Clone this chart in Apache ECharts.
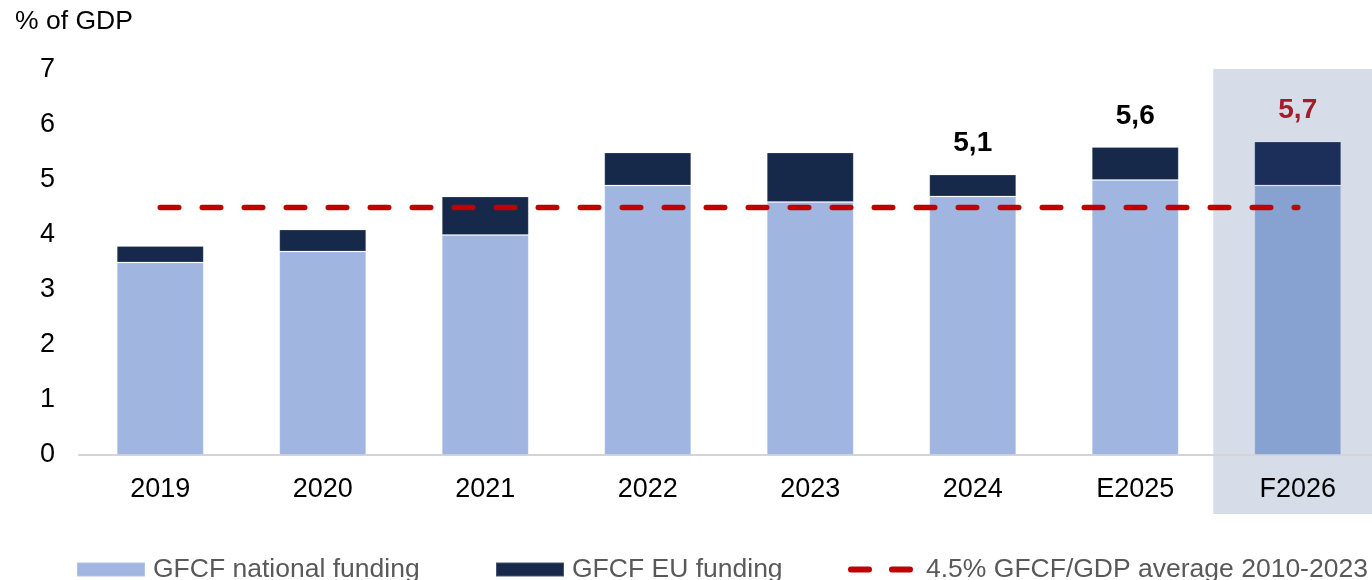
<!DOCTYPE html>
<html>
<head>
<meta charset="utf-8">
<script src="https://cdn.jsdelivr.net/npm/echarts@6/dist/echarts.min.js"></script>
<style>
html,body{margin:0;padding:0;background:#fff;overflow:hidden;width:1372px;height:580px;}
#chart{width:1380px;height:580px;}
</style>
</head>
<body>
<div id="chart"></div>
<script>
var categories = ['2019','2020','2021','2022','2023','2024','E2025','F2026'];
var nationalFunding = [3.5, 3.7, 4.0, 4.9, 4.6, 4.7, 5.0, 4.9];
var euFunding = [0.3, 0.4, 0.7, 0.6, 0.9, 0.4, 0.6, 0.8];
var averageLine = [4.5, 4.5, 4.5, 4.5, 4.5, 4.5, 4.5, 4.5];
var labelledCategories = ['2024','E2025','F2026'];
var highlightCategory = 'F2026';
var yTicks = [0,1,2,3,4,5,6,7];

var FONT = '"Liberation Sans", Arial, sans-serif';
var C_NAT = '#A0B5E0', C_EU = '#17294A';
var C_NAT_H = '#87A1D1', C_EU_H = '#1C2F5A';
var C_RED = '#C00000', C_LABEL_RED = '#A61B29';

var natData = nationalFunding.map(function(v,i){
  var d = {value:v};
  if (categories[i] === highlightCategory) d.itemStyle = {color:C_NAT_H};
  return d;
});
var euData = euFunding.map(function(v,i){
  var d = {value:v};
  var total = (nationalFunding[i] + v).toFixed(1).replace('.', ',');
  if (categories[i] === highlightCategory) d.itemStyle = {color:C_EU_H};
  if (labelledCategories.indexOf(categories[i]) >= 0) {
    d.label = {show:true, position:'top', distance:17, formatter: total,
      color: categories[i] === highlightCategory ? C_LABEL_RED : '#000',
      fontSize:28, fontWeight:'bold', fontFamily:FONT};
  }
  return d;
});

var dashIcon = 'path://M3,0 h18 a3,3 0 0 1 0,6 h-18 a3,3 0 0 1 0,-6 z M44,0 h18 a3,3 0 0 1 0,6 h-18 a3,3 0 0 1 0,-6 z';

var chart = echarts.init(document.getElementById('chart'), null, {renderer:'canvas'});
var legendText = {color:'#595959', fontSize:26.5, fontFamily:FONT, padding:[0,0,0,3]};
var option = {
  animation:false,
  title:{text:'% of GDP', left:15, top:8, padding:0,
    textStyle:{fontSize:26.5, fontWeight:'normal', color:'#000', fontFamily:FONT}},
  grid:{left:79, right:1, top:70, bottom:125, containLabel:false},
  legend:[
    {left:76, top:556, itemWidth:68, itemHeight:14, padding:0, icon:'rect',
     data:['GFCF national funding'], textStyle:legendText},
    {left:495, top:556, itemWidth:68, itemHeight:14, padding:0, icon:'rect',
     data:['GFCF EU funding'], textStyle:legendText},
    {left:848, top:556, itemWidth:65, itemHeight:6, padding:0,
     data:[{name:'4.5% GFCF/GDP average 2010-2023', icon:dashIcon,
       itemStyle:{color:C_RED, opacity:1, borderWidth:0}}],
     textStyle:{color:'#595959', fontSize:26.5, fontFamily:FONT, padding:[0,0,0,8]}}
  ],
  xAxis:{type:'category', data:categories,
    axisLine:{show:true, lineStyle:{color:'#D4D4D4', width:2}},
    axisTick:{show:false},
    axisLabel:{color:'#000', fontSize:27, fontFamily:FONT, margin:21}},
  yAxis:{type:'value', min:yTicks[0], max:yTicks[yTicks.length-1], interval:1,
    axisLine:{show:false}, axisTick:{show:false}, splitLine:{show:false},
    axisLabel:{color:'#000', fontSize:27, fontFamily:FONT, margin:24}},
  series:[
    {name:'GFCF national funding', type:'bar', stack:'t', barWidth:87,
     itemStyle:{color:C_NAT, borderColor:'rgba(255,255,255,0.2)', borderWidth:1},
     data:natData, z:3},
    {name:'GFCF EU funding', type:'bar', stack:'t', barWidth:87,
     itemStyle:{color:C_EU, borderColor:'rgba(255,255,255,0.2)', borderWidth:1},
     data:euData, z:3},
    {name:'4.5% GFCF/GDP average 2010-2023', type:'line', data:averageLine,
     symbol:'none', z:5, itemStyle:{color:C_RED},
     lineStyle:{color:C_RED, width:5.5, type:[18.5,23.5], cap:'round'}}
  ]
};
chart.setOption(option);

var cx = chart.convertToPixel({xAxisIndex:0}, highlightCategory);
var yTop = chart.convertToPixel({yAxisIndex:0}, yTicks[yTicks.length-1]);
chart.setOption({
  graphic:[{type:'rect', z:-10, silent:true,
    shape:{x:cx-84.5, y:yTop-1, width:200, height:445},
    style:{fill:'#D6DDE9'}}]
});
</script>
</body>
</html>
